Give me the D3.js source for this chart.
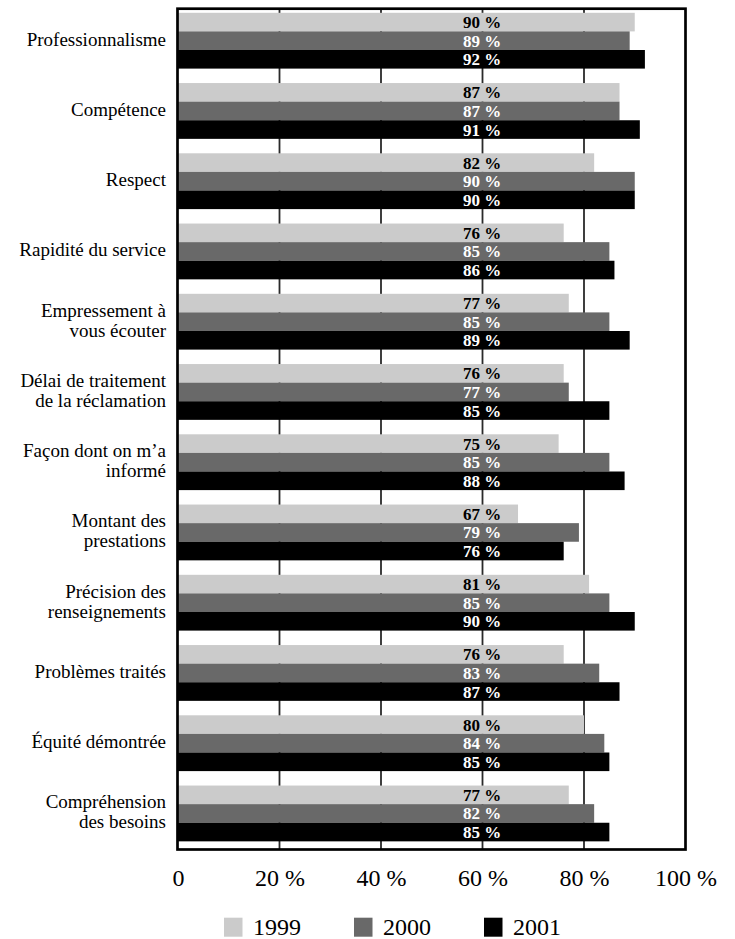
<!DOCTYPE html>
<html>
<head>
<meta charset="utf-8">
<script src="https://cdn.jsdelivr.net/npm/d3@7"></script>
<style>
  html, body { margin: 0; padding: 0; background: #fff; }
  svg { display: block; }
</style>
</head>
<body>
<svg id="chart" width="735" height="939"></svg>
<script>
const categories = [
  "Professionnalisme",
  "Compétence",
  "Respect",
  "Rapidité du service",
  "Empressement à\nvous écouter",
  "Délai de traitement\nde la réclamation",
  "Façon dont on m’a\ninformé",
  "Montant des\nprestations",
  "Précision des\nrenseignements",
  "Problèmes traités",
  "Équité démontrée",
  "Compréhension\ndes besoins"
];
const seriesNames = ["1999", "2000", "2001"];
const values1999 = [90, 87, 82, 76, 77, 76, 75, 67, 81, 76, 80, 77];
const values2000 = [89, 87, 90, 85, 85, 77, 85, 79, 85, 83, 84, 82];
const values2001 = [92, 91, 90, 86, 89, 85, 88, 76, 90, 87, 85, 85];
const xTicks = [0, 20, 40, 60, 80, 100];
const xTickLabels = ["0", "20 %", "40 %", "60 %", "80 %", "100 %"];

const seriesValues = [values1999, values2000, values2001];
const colors = ["#cbcbcb", "#696969", "#000000"];
const labelColors = ["#000000", "#ffffff", "#ffffff"];
const FONT = "'Liberation Serif', 'DejaVu Serif', 'Times New Roman', Times, serif";

const svg = d3.select("#chart").attr("font-family", FONT);

const frame = { left: 177.5, right: 685.5, top: 8.7, bottom: 849.5 };
const x = d3.scaleLinear().domain([0, 100]).range([178, 685.5]);
const y = d3.scaleBand().domain(categories).range([12.8, 12.8 + 12 * 70.25]).padding(0);
const ySub = d3.scaleBand().domain(seriesNames).range([0, 55.8]).padding(0);

// gridlines
svg.append("g").selectAll("line")
  .data([20, 40, 60, 80])
  .join("line")
  .attr("x1", d => x(d)).attr("x2", d => x(d))
  .attr("y1", frame.top).attr("y2", frame.bottom)
  .attr("stroke", "#2a2a2a").attr("stroke-width", 1.8);

// bars
const groups = svg.append("g").selectAll("g")
  .data(categories)
  .join("g")
  .attr("transform", d => `translate(0,${y(d)})`);

groups.each(function(cat, ci) {
  const g = d3.select(this);
  seriesNames.forEach((s, si) => {
    const v = seriesValues[si][ci];
    g.append("rect")
      .attr("x", x(0))
      .attr("y", ySub(s))
      .attr("width", x(v) - x(0))
      .attr("height", ySub.bandwidth())
      .attr("fill", colors[si]);
    g.append("text")
      .attr("x", 482)
      .attr("y", ySub(s) + 15.3)
      .attr("text-anchor", "middle")
      .attr("font-family", FONT)
      .attr("font-weight", "bold")
      .attr("font-size", 17)
      .attr("fill", labelColors[si])
      .text(v + " %");
  });
});

// frame
svg.append("rect")
  .attr("x", frame.left).attr("y", frame.top)
  .attr("width", frame.right - frame.left)
  .attr("height", frame.bottom - frame.top)
  .attr("fill", "none").attr("stroke", "#000").attr("stroke-width", 2.7);

// category labels
const catG = svg.append("g");
categories.forEach(cat => {
  const lines = cat.split("\n");
  const c = y(cat) + 27.9;
  const t = catG.append("text")
    .attr("text-anchor", "end")
    .attr("font-family", FONT)
    .attr("font-size", 19)
    .attr("fill", "#000");
  lines.forEach((ln, i) => {
    t.append("tspan")
      .attr("x", 166)
      .attr("y", c + 5 + (i - (lines.length - 1) / 2) * 20)
      .text(ln);
  });
});

// x axis labels
const xAxis = d3.axisBottom(x).tickValues(xTicks)
  .tickFormat((d, i) => xTickLabels[i]).tickSize(0).tickPadding(0);
const axG = svg.append("g").attr("transform", "translate(0,868)").call(xAxis)
  .attr("font-family", FONT);
axG.select(".domain").remove();
axG.selectAll("text")
  .attr("font-family", FONT)
  .attr("font-size", 24)
  .attr("fill", "#000")
  .attr("dy", null)
  .attr("y", 18);

// legend
const legendX = [224, 354, 484];
const leg = svg.append("g");
seriesNames.forEach((s, i) => {
  leg.append("rect")
    .attr("x", legendX[i]).attr("y", 917.7)
    .attr("width", 18.5).attr("height", 19)
    .attr("fill", colors[i]);
  leg.append("text")
    .attr("x", legendX[i] + 29).attr("y", 935)
    .attr("font-family", FONT)
    .attr("font-size", 24).attr("fill", "#000")
    .text(s);
});
</script>
</body>
</html>
